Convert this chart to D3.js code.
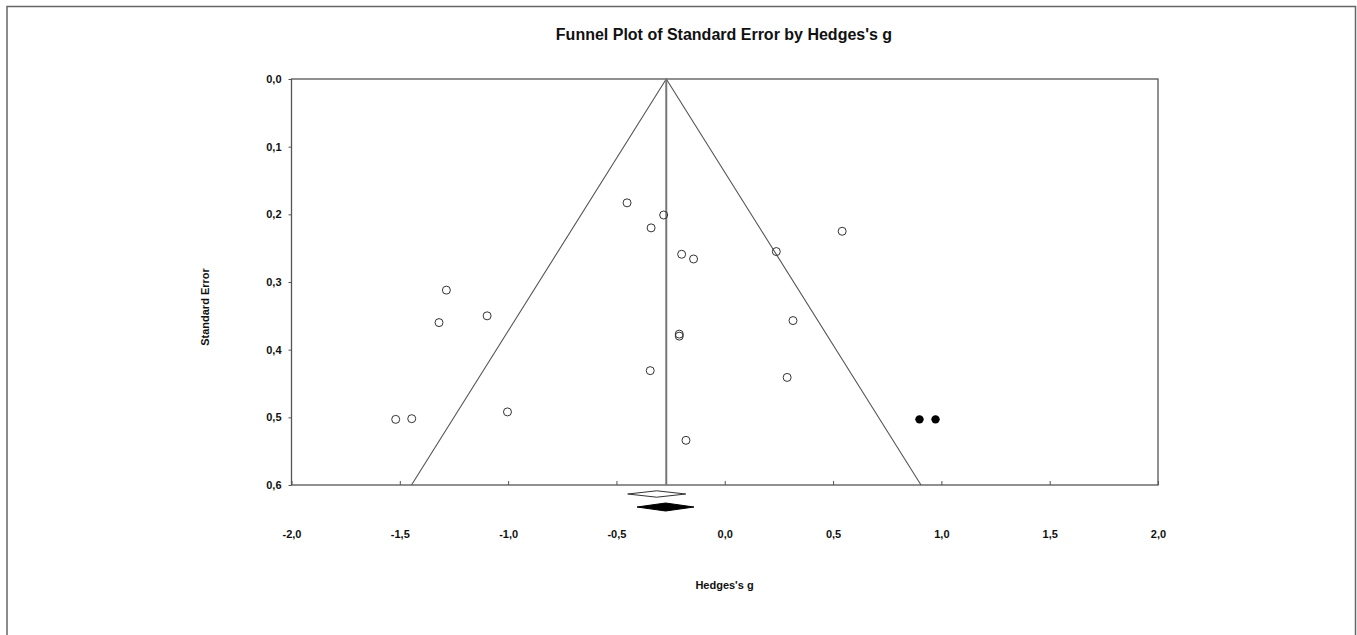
<!DOCTYPE html>
<html><head><meta charset="utf-8">
<script src="https://cdn.jsdelivr.net/npm/d3@7"></script>
<style>
html,body{margin:0;padding:0;background:#fff;}
svg text{font-family:"Liberation Sans",Arial,sans-serif;font-weight:bold;fill:#111;}
</style>
</head><body>
<svg id="c" width="1357" height="635"></svg>
<script>
// Observed studies: Hedges's g and standard error
const gObserved  = [-0.451,-0.282,-0.340,-0.199,-0.144, 0.542, 0.238,-1.285,-1.319,-1.097, 0.315,-0.210,-0.210,-0.344, 0.288,-1.519,-1.445,-1.003,-0.179];
const seObserved = [ 0.183, 0.201, 0.220, 0.259, 0.266, 0.225, 0.255, 0.312, 0.360, 0.350, 0.357, 0.377, 0.380, 0.431, 0.441, 0.503, 0.502, 0.492, 0.534];
// Imputed studies (trim and fill)
const gImputed  = [0.899, 0.973];
const seImputed = [0.503, 0.503];
// Summary estimates
const funnelCenter = -0.270;
const observedSummary = [-0.448, -0.314, -0.180]; // lower, point, upper
const adjustedSummary = [-0.405, -0.273, -0.142];
// Axis ticks
const xTicks = [-2.0,-1.5,-1.0,-0.5,0.0,0.5,1.0,1.5,2.0];
const yTicks = [0.0,0.1,0.2,0.3,0.4,0.5,0.6];
const fmt = v => d3.format(".1f")(v).replace(".", ",").replace("−","-");

const svg = d3.select("#c");
// outer border
svg.append("rect").attr("x",7).attr("y",6.5).attr("width",1348.5).attr("height",640)
  .attr("fill","none").attr("stroke","#666").attr("stroke-width",1.5);

const L=291.5, R=1158, T=79, B=485;
const x = d3.scaleLinear().domain([-2,2]).range([L,R]);
const y = d3.scaleLinear().domain([0,0.6]).range([T,B]);

// title
svg.append("text").attr("x",724).attr("y",40).attr("text-anchor","middle")
  .style("font-size","16px").text("Funnel Plot of Standard Error by Hedges's g");

// plot frame
svg.append("rect").attr("x",L).attr("y",T).attr("width",R-L).attr("height",B-T)
  .attr("fill","none").attr("stroke","#555").attr("stroke-width",1.3);

// x ticks (inside) and labels
const xAx = d3.axisBottom(x).tickValues(xTicks).tickSize(-4).tickFormat(fmt).tickPadding(44);
const gx = svg.append("g").attr("transform",`translate(0,${B})`).call(xAx);
gx.select(".domain").remove();
gx.selectAll(".tick line").attr("stroke","#555");
gx.selectAll(".tick text").style("font-size","11px").attr("fill","#111").attr("dy","0.35em").attr("y",49);

// y ticks (outside) and labels
const yAx = d3.axisLeft(y).tickValues(yTicks).tickSize(3).tickFormat(fmt).tickPadding(7);
const gy = svg.append("g").attr("transform",`translate(${L},0)`).call(yAx);
gy.select(".domain").remove();
gy.selectAll(".tick line").attr("stroke","#555");
gy.selectAll(".tick text").style("font-size","11px").attr("fill","#111");

// axis titles
svg.append("text").attr("transform","translate(209,307) rotate(-90)").attr("text-anchor","middle")
  .style("font-size","11px").text("Standard Error");
svg.append("text").attr("x",724.5).attr("y",589).attr("text-anchor","middle")
  .style("font-size","11px").text("Hedges's g");

// funnel
const seMax = 0.6;
svg.append("path")
  .attr("d", d3.line()([[x(funnelCenter-1.96*seMax), y(seMax)],[x(funnelCenter), y(0)],[x(funnelCenter+1.96*seMax), y(seMax)]]))
  .attr("fill","none").attr("stroke","#555").attr("stroke-width",1.1);
svg.append("line").attr("x1",x(funnelCenter)).attr("x2",x(funnelCenter)).attr("y1",y(0)).attr("y2",y(seMax))
  .attr("stroke","#777").attr("stroke-width",2);

// observed points
svg.append("g").selectAll("circle").data(gObserved).join("circle")
  .attr("cx",(d)=>x(d)).attr("cy",(d,i)=>y(seObserved[i])).attr("r",4)
  .attr("fill","none").attr("stroke","#333").attr("stroke-width",1);
// imputed points
svg.append("g").selectAll("circle").data(gImputed).join("circle")
  .attr("cx",(d)=>x(d)).attr("cy",(d,i)=>y(seImputed[i])).attr("r",4.2)
  .attr("fill","#000");

// diamonds
function diamond(s, cy, h){
  return `M${x(s[0])},${cy} L${x(s[1])},${cy-h} L${x(s[2])},${cy} L${x(s[1])},${cy+h} Z`;
}
svg.append("path").attr("d",diamond(observedSummary,494,3.2)).attr("fill","#fff").attr("stroke","#333").attr("stroke-width",1);
svg.append("path").attr("d",diamond(adjustedSummary,507,4)).attr("fill","#000").attr("stroke","#000").attr("stroke-width",1);
</script>
</body></html>
